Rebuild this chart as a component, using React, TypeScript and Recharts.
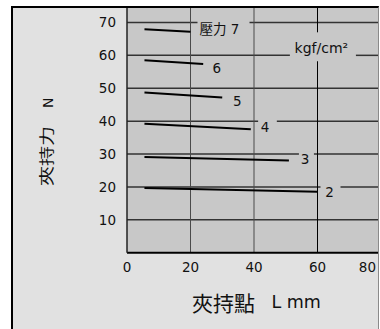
import React from 'react';
import { LineChart, Line, XAxis, YAxis, CartesianGrid, LabelList, ReferenceDot, ReferenceLine } from 'recharts';

// Clamping force vs. clamping point, one line per supply pressure (kgf/cm²)
const pressureTags = ['2', '3', '4', '5', '6', '壓力 7'];
const startL = [5.5, 5.5, 5.5, 5.5, 5.5, 5.5];
const endL = [60, 51, 39, 30, 24, 20];
const forceStart = [19.7, 29.1, 39.2, 48.7, 58.5, 67.9];
const forceEnd = [18.5, 28.0, 37.5, 47.2, 57.4, 67.2];
const xTicks = [0, 20, 40, 60, 80];
const yTicks = [0, 10, 20, 30, 40, 50, 60, 70];
const unitLabel = 'kgf/cm²';
const unitAnchor = { L: 61.7, F: 62.4 };
// area kept clear of grid rules around the unit note
const unitClearL = [51.3, 72.1];
const unitClearF = [58.2, 67];
const xTitleCjk = '夾持點';
const xTitleUnit = 'L mm';
const yTitleCjk = '夾持力';
const yTitleUnit = 'N';

const X_MIN = 0;
const X_MAX = 80;
const Y_MIN = 0;
const Y_MAX = 75;

const series = pressureTags.map((tag, i) => ({
  tag,
  points: [
    { L: startL[i], F: forceStart[i], tag: '' },
    { L: endL[i], F: forceEnd[i], tag },
  ],
}));

// tag offset from each line's right end: [dx, dy, backing-left, backing-right]
const tagPlacement = [
  [12, 0.3, 3, 23],
  [16, -1.4, 10, 25],
  [14.3, -2, 7.3, 26],
  [15, 3.7, 0, 0],
  [13.5, 4.3, 0, 0],
  [29, -2.7, 7, 59],
];

const FONT_LATIN = "'DejaVu Sans', 'Noto Sans CJK TC', sans-serif";
const FONT_CJK = "'Noto Sans CJK TC', 'Noto Sans CJK JP', sans-serif";
const PANEL = '#e1e1e1';
const PLOT = '#c8c8c8';
const INK = '#111';
const GRID = '#333';

const renderTag = (props: any, place: number[]) => {
  const { x, y, value } = props;
  if (!value) return null;
  const [dx, dy, b0, b1] = place;
  const cx = Number(x) + dx;
  const cy = Number(y) + dy;
  return (
    <g>
      {b1 > b0 && <rect x={Number(x) + b0} y={cy - 8} width={b1 - b0} height={16} fill={PLOT} />}
      <text x={cx} y={cy + 4.9} textAnchor="middle" fontFamily={FONT_LATIN} fontSize={13.5} fill={INK}>
        {value}
      </text>
    </g>
  );
};

const YTick = (props: any) => {
  const { x, y, payload } = props;
  if (payload.value === 0) return null;
  return (
    <text x={x} y={y + 4.9} textAnchor="end" fontFamily={FONT_LATIN} fontSize={13.5} fill={INK}>
      {payload.value}
    </text>
  );
};

const XTick = (props: any) => {
  const { x, y, payload, index } = props;
  const last = index === xTicks.length - 1;
  return (
    <text
      x={last ? x - 5 : x}
      y={y + 19}
      textAnchor={last ? 'end' : 'middle'}
      fontFamily={FONT_LATIN}
      fontSize={13.5}
      fill={INK}
    >
      {payload.value}
    </text>
  );
};

const XTitle = () => (
  <g>
    <text x={192} y={310.8} fontFamily={FONT_CJK} fontSize={21} fill={INK}>
      {xTitleCjk}
    </text>
    <text x={271.5} y={308.3} fontFamily={FONT_LATIN} fontSize={17.5} fill={INK}>
      {xTitleUnit}
    </text>
  </g>
);

const YTitle = () => (
  <g transform="translate(52, 186) rotate(-90)">
    <text transform="scale(1.38, 1)" x={0} y={0} fontFamily={FONT_CJK} fontSize={14.5} fill={INK}>
      {yTitleCjk}
    </text>
    <text x={78} y={1.3} fontFamily={FONT_LATIN} fontSize={14} fill={INK}>
      {yTitleUnit}
    </text>
  </g>
);

const UnitNote = (props: any) => {
  const { cx, cy } = props;
  return (
    <text x={cx - 1.5} y={cy + 5.2} textAnchor="middle" fontFamily={FONT_LATIN} fontSize={14} fill={INK}>
      {unitLabel}
    </text>
  );
};

// grid rule segments; the rules at 60 break around the unit note
const horizontalRules: { x: number; y: number }[][] = [];
yTicks.slice(1).forEach((v) => {
  if (v >= unitClearF[0] && v <= unitClearF[1]) {
    horizontalRules.push([{ x: X_MIN, y: v }, { x: unitClearL[0], y: v }]);
    horizontalRules.push([{ x: unitClearL[1], y: v }, { x: X_MAX, y: v }]);
  } else {
    horizontalRules.push([{ x: X_MIN, y: v }, { x: X_MAX, y: v }]);
  }
});
const verticalRules: { seg: { x: number; y: number }[]; strong: boolean }[] = [];
xTicks.slice(1, -1).forEach((v) => {
  const strong = v === 60;
  if (v >= unitClearL[0] && v <= unitClearL[1]) {
    verticalRules.push({ seg: [{ x: v, y: Y_MIN }, { x: v, y: unitClearF[0] }], strong });
    verticalRules.push({ seg: [{ x: v, y: unitClearF[1] }, { x: v, y: Y_MAX }], strong });
  } else {
    verticalRules.push({ seg: [{ x: v, y: Y_MIN }, { x: v, y: Y_MAX }], strong });
  }
});

export default function App() {
  return (
    <div style={{ position: 'absolute', left: 0, top: 0, width: 380, height: 329, overflow: 'hidden', background: '#fff' }}>
      <div style={{ position: 'absolute', left: 11, top: 6, width: 368, height: 340, background: PANEL }} />
      <div style={{ position: 'absolute', left: 0, top: 0, width: 378, height: 329, overflow: 'hidden' }}>
        <LineChart width={390} height={329} margin={{ top: 6, right: 9, left: 67, bottom: 46.3 }}>
          <CartesianGrid fill={PLOT} fillOpacity={1} horizontal={false} vertical={false} />
          <XAxis
            type="number"
            dataKey="L"
            domain={[X_MIN, X_MAX]}
            ticks={xTicks}
            allowDataOverflow
            height={30}
            tickLine={false}
            tickSize={0}
            tickMargin={0}
            axisLine={{ stroke: '#000', strokeWidth: 2 }}
            tick={<XTick />}
            interval={0}
          />
          <YAxis
            type="number"
            dataKey="F"
            domain={[Y_MIN, Y_MAX]}
            ticks={yTicks}
            allowDataOverflow
            width={60}
            tickLine={false}
            tickSize={0}
            tickMargin={11}
            axisLine={{ stroke: '#222', strokeWidth: 1.5 }}
            tick={<YTick />}
            interval={0}
          />
          {horizontalRules.map((seg, k) => (
            <ReferenceLine key={`h-${k}`} segment={seg} ifOverflow="visible" stroke={GRID} strokeWidth={1.5} />
          ))}
          {verticalRules.map((r, k) => (
            <ReferenceLine
              key={`v-${k}`}
              segment={r.seg}
              ifOverflow="visible"
              stroke={r.strong ? '#000' : '#4a4a4a'}
              strokeWidth={1}
            />
          ))}
          <ReferenceDot
            x={unitAnchor.L}
            y={unitAnchor.F}
            r={0}
            ifOverflow="visible"
            shape={(p: any) => <UnitNote {...p} />}
          />
          {series.map((s, i) => (
            <Line
              key={s.tag}
              data={s.points}
              dataKey="F"
              type="linear"
              stroke="#000"
              strokeWidth={2}
              dot={false}
              activeDot={false}
              isAnimationActive={false}
            >
              <LabelList dataKey="tag" content={(p: any) => renderTag(p, tagPlacement[i])} />
            </Line>
          ))}
        </LineChart>
        <svg width={378} height={329} style={{ position: 'absolute', left: 0, top: 0, pointerEvents: 'none' }}>
          <XTitle />
          <YTitle />
        </svg>
      </div>
      <div
        style={{
          position: 'absolute',
          left: 11,
          top: 6,
          width: 368,
          height: 340,
          boxSizing: 'border-box',
          borderLeft: '2px solid #000',
          borderTop: '2px solid #000',
          borderRight: '1px solid #8a8a8a',
          pointerEvents: 'none',
        }}
      />
    </div>
  );
}
